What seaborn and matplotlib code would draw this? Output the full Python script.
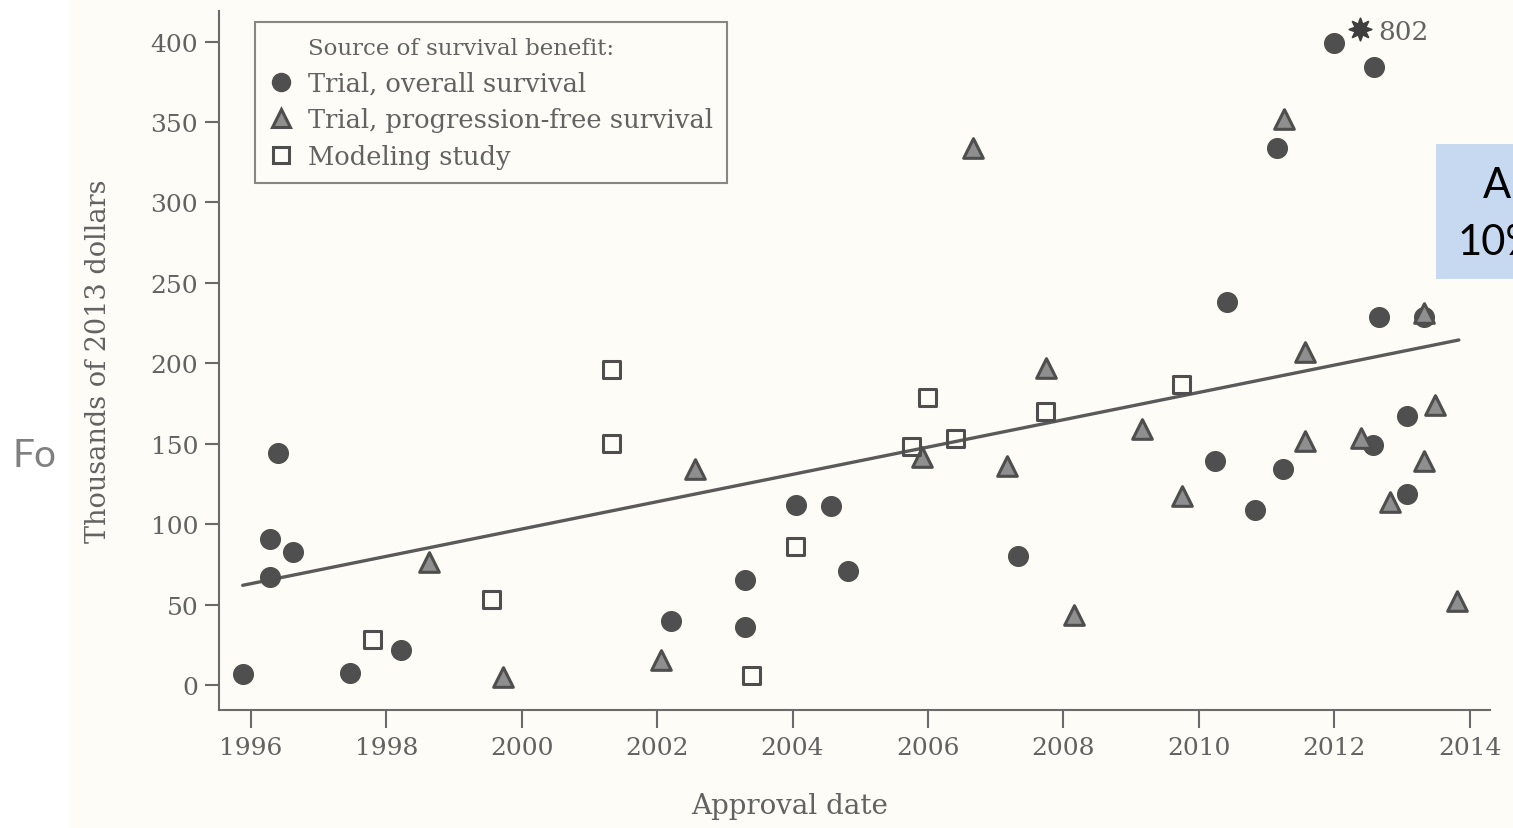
import numpy as np
import pandas as pd
import matplotlib
matplotlib.use("Agg")
import matplotlib.pyplot as plt
import seaborn as sns
from matplotlib.lines import Line2D
from matplotlib.patches import Rectangle

# --- data (approval year, thousands of 2013 dollars)
os_year = [1995.88, 1996.28, 1996.28, 1996.40, 1996.62, 1997.46, 1998.22, 2002.20,
           2003.30, 2003.30, 2004.05, 2004.57, 2004.82, 2007.33, 2010.24, 2010.42,
           2010.83, 2011.16, 2011.24, 2012.00, 2012.59, 2012.66, 2012.57, 2013.33,
           2013.08, 2013.08]
os_cost = [7, 67, 91, 144, 83, 7.5, 22, 40, 65, 36, 112, 111, 71, 80, 139, 238,
           109, 334, 134, 399, 384, 229, 149, 229, 167, 119]

pfs_year = [1998.63, 1999.72, 2002.06, 2002.56, 2005.91, 2006.66, 2007.17, 2007.74,
            2008.16, 2009.16, 2009.75, 2011.26, 2011.57, 2011.57, 2012.40, 2012.82,
            2013.33, 2013.33, 2013.49, 2013.81]
pfs_cost = [76.5, 5, 15.5, 134, 142, 334, 136, 197, 43.5, 159, 117.5, 352, 207,
            152, 153.6, 114, 231, 139, 174, 52]

model_year = [1997.80, 1999.55, 2001.32, 2001.32, 2003.39, 2004.05, 2005.75,
              2005.99, 2006.41, 2007.74, 2009.75]
model_cost = [28.6, 53, 196, 150, 6, 86, 148, 179, 153, 170, 187]

# off-scale point drawn as a star at the top of the axis
star_year = [2012.38]
star_pos = [408]
star_label = "802"

# fitted trend line end points
trend_x = [1995.88, 2013.84]
trend_y = [62, 214.5]

labels = ["Trial, overall survival", "Trial, progression-free survival", "Modeling study"]

df = pd.concat([
    pd.DataFrame({"year": os_year, "cost": os_cost, "source": labels[0]}),
    pd.DataFrame({"year": pfs_year, "cost": pfs_cost, "source": labels[1]}),
    pd.DataFrame({"year": model_year, "cost": model_cost, "source": labels[2]}),
])

sns.set_style("ticks")
plt.rcParams['font.family'] = ['DejaVu Serif']

ink = "#4e4e4e"
grey_txt = "#626262"

fig = plt.figure(figsize=(15.13, 8.29), dpi=100, facecolor="white")
# scanned page area
fig.patches.append(Rectangle((70 / 1513, 0), 1, 1, transform=fig.transFigure,
                             facecolor="#fdfcf6", edgecolor="none", zorder=-10))
ax = fig.add_axes([219 / 1513, 1 - 711 / 829, 1271 / 1513, 699 / 829])
ax.set_facecolor("none")

sns.lineplot(x=trend_x, y=trend_y, color="#5a5a5a", lw=2.4, ax=ax, zorder=2)

styles = {
    labels[0]: dict(marker="o", s=200, color="#4f4f4f", edgecolor="#4f4f4f", linewidth=1),
    labels[1]: dict(marker="^", s=200, color="#8f8f8f", edgecolor=ink, linewidth=2.2),
    labels[2]: dict(marker="s", s=150, color="none", edgecolor=ink, linewidth=2.2),
}
for src in labels:
    sns.scatterplot(data=df[df["source"] == src], x="year", y="cost", ax=ax,
                    legend=False, zorder=3, **styles[src])

sns.scatterplot(x=star_year, y=star_pos, marker=(8, 1, 0), s=260, color="#3f3f3f",
                edgecolor="#3f3f3f", ax=ax, legend=False, zorder=3)
ax.text(star_year[0] + 0.27, star_pos[0] - 2, star_label, fontsize=19,
        color=grey_txt, va="center", ha="left")

ax.set_xlim(1995.53, 2014.3)
ax.set_ylim(-15.5, 419)
ax.set_xticks(np.arange(1996, 2015, 2))
ax.set_yticks(np.arange(0, 401, 50))
sns.despine(ax=ax)
for side in ["left", "bottom"]:
    ax.spines[side].set_color("#6a6a6a")
    ax.spines[side].set_linewidth(1.5)
ax.tick_params(axis="both", colors="#6a6a6a", width=1.5, labelsize=18,
               labelcolor=grey_txt)
ax.tick_params(axis="y", length=10, pad=5)
ax.tick_params(axis="x", length=13, pad=6)

ax.set_xlabel("Approval date", fontsize=20, color=grey_txt)
ax.set_ylabel("Thousands of 2013 dollars", fontsize=19.5, color=grey_txt)
ax.xaxis.set_label_coords((790 - 219) / 1271, -0.117)
ax.yaxis.set_label_coords(-0.084, 0.50)

# legend: title as first, marker-less entry so it lines up with the labels
handles = [
    Line2D([], [], ls="", marker=""),
    Line2D([], [], ls="", marker="o", markersize=13, color="#4f4f4f"),
    Line2D([], [], ls="", marker="^", markersize=13, markerfacecolor="#8f8f8f",
           markeredgecolor=ink, markeredgewidth=2.2),
    Line2D([], [], ls="", marker="s", markersize=11.5, markerfacecolor="none",
           markeredgecolor=ink, markeredgewidth=2.2),
]
leg = ax.legend(handles, ["Source of survival benefit:"] + labels,
                loc="upper left", bbox_to_anchor=(0.0283, 0.984), borderaxespad=0,
                frameon=True, fancybox=False, fontsize=18.5, labelcolor=grey_txt,
                handlelength=0.9, handletextpad=0.6, labelspacing=0.45, borderpad=0.55)
leg.get_frame().set_edgecolor("#6a6a6a")
leg.get_frame().set_linewidth(1.5)
leg.get_frame().set_facecolor("none")
leg.get_texts()[0].set_fontsize(16.5)

# overlay fragments from the slide the scan was pasted onto
fig.text(13 / 1513, 1 - 456 / 829, "Fo", fontsize=28, color="#808080",
         family=["Lato", "DejaVu Sans"], ha="left", va="center")
fig.patches.append(Rectangle((1436 / 1513, 1 - 280 / 829), 77 / 1513, 135 / 829,
                             transform=fig.transFigure, facecolor="#c6d9f1",
                             edgecolor="none", zorder=5))
fig.text(1483 / 1513, 1 - 186 / 829, "A", fontsize=30, color="black",
         family=["Lato", "DejaVu Sans"], ha="left", va="center", zorder=6)
fig.text(1458 / 1513, 1 - 243 / 829, "10%", fontsize=30, color="black",
         family=["Lato", "DejaVu Sans"], ha="left", va="center", zorder=6)

fig.savefig("out.png", dpi=100, facecolor=fig.get_facecolor())
